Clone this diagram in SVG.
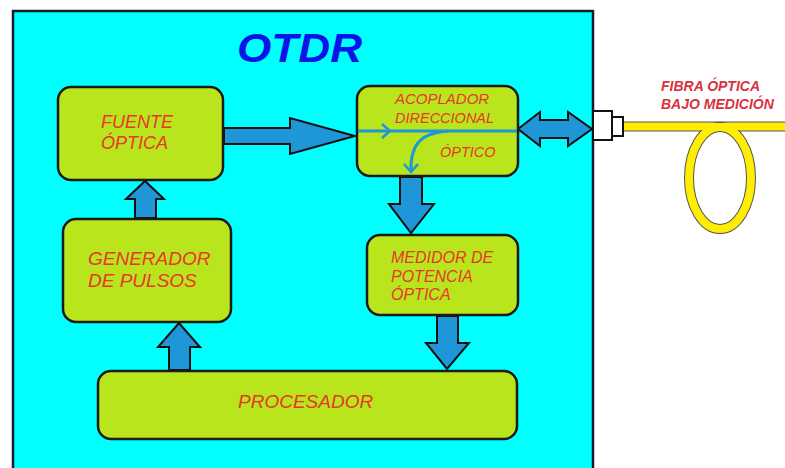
<svg xmlns="http://www.w3.org/2000/svg" width="785" height="468" viewBox="0 0 785 468">
<defs>
<style>
.box{fill:#b8e51c;stroke:#1a1a1a;stroke-width:2.5}
.lbl{font-family:"Liberation Sans",Arial,sans-serif;font-style:italic;fill:#e8372a}
.arr{fill:#1e96d8;stroke:#111;stroke-width:2;stroke-linejoin:miter}
.fib{font-family:"Liberation Sans",Arial,sans-serif;font-style:italic;font-weight:bold;fill:#d8323e;font-size:14px}
</style>
</defs>
<rect width="785" height="468" fill="#ffffff"/>
<rect id="otdr-frame" x="13" y="11" width="580" height="470" fill="#00ffff" stroke="#1a1a2e" stroke-width="2.5"/>
<text x="237" y="62" font-family="Liberation Sans,Arial,sans-serif" font-weight="bold" font-style="italic" font-size="40" fill="#0a14e8" textLength="125" lengthAdjust="spacingAndGlyphs">OTDR</text>

<g id="connectors">
<path class="arr" d="M224,128 H290 V118 L355,136 L290,154 V144 H224 Z"/>
<path class="arr" d="M518,129 L540,112 V120 H568 V112 L592,129 L568,146 V138 H540 V146 Z"/>
<path class="arr" d="M400,177 H422 V204 H434 L411,233 L389,204 H400 Z"/>
<path class="arr" d="M437,316 H458 V343 H469 L447,369 L426,343 H437 Z"/>
<path class="arr" d="M135,218 V199 H126 L145,181 L164,199 H156 V218 Z"/>
<path class="arr" d="M169,370 V347 H158 L179,323 L200,347 H190 V370 Z"/>
</g>

<g id="fuente">
<rect class="box" x="58" y="87" width="165" height="93" rx="13"/>
<text class="lbl" x="101" y="128" font-size="18">FUENTE</text>
<text class="lbl" x="101" y="149" font-size="18">ÓPTICA</text>
</g>

<g id="acoplador">
<rect class="box" x="357" y="86" width="161" height="90" rx="13"/>
<text class="lbl" x="395" y="104" font-size="15">ACOPLADOR</text>
<text class="lbl" x="395" y="123" font-size="14.5">DIRECCIONAL</text>
<text class="lbl" x="440" y="157" font-size="14.5">ÓPTICO</text>
<line x1="358" y1="131" x2="517" y2="131" stroke="#1e96d8" stroke-width="3"/>
<path d="M382,124 L390,131 L382,138" fill="none" stroke="#1e96d8" stroke-width="2.5"/>
<path d="M448,131 C420,133 410,145 411,172" fill="none" stroke="#1e96d8" stroke-width="3"/>
<path d="M404,164 L411,172 L418,164" fill="none" stroke="#1e96d8" stroke-width="2.5"/>
</g>

<g id="medidor">
<rect class="box" x="367" y="235" width="151" height="80" rx="13"/>
<text class="lbl" x="391" y="263" font-size="16">MEDIDOR DE</text>
<text class="lbl" x="391" y="282" font-size="16">POTENCIA</text>
<text class="lbl" x="391" y="300" font-size="16">ÓPTICA</text>
</g>

<g id="generador">
<rect class="box" x="63" y="219" width="168" height="103" rx="13"/>
<text class="lbl" x="88" y="265" font-size="19">GENERADOR</text>
<text class="lbl" x="88" y="287" font-size="19">DE PULSOS</text>
</g>

<g id="procesador">
<rect class="box" x="98" y="371" width="419" height="68" rx="13"/>
<text class="lbl" x="238" y="408" font-size="19">PROCESADOR</text>
</g>

<g id="fibra">
<rect x="623" y="122" width="165" height="9" fill="#ffee00" stroke="#555" stroke-width="1"/>
<ellipse cx="720" cy="178" rx="31" ry="51" fill="none" stroke="#555" stroke-width="10"/>
<ellipse cx="720" cy="178" rx="31" ry="51" fill="none" stroke="#ffee00" stroke-width="8"/>
<rect x="700" y="123" width="40" height="7" fill="#ffee00"/>
<rect x="593" y="111" width="19" height="29" fill="#ffffff" stroke="#111" stroke-width="2"/>
<rect x="612" y="117" width="11" height="19" fill="#ffffff" stroke="#111" stroke-width="2"/>
<text class="fib" x="661" y="91">FIBRA ÓPTICA</text>
<text class="fib" x="661" y="109">BAJO MEDICIÓN</text>
</g>
</svg>
